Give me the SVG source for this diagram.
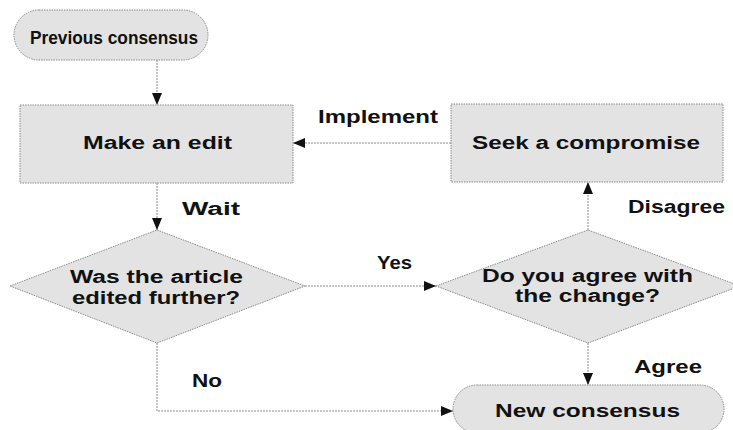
<svg xmlns="http://www.w3.org/2000/svg" width="733" height="430" viewBox="0 0 733 430">
<defs>
<style>
.shape{fill:#e3e3e3;stroke:#8a8a8a;stroke-width:1;stroke-dasharray:1.5,1}
.lbl{font-family:"Liberation Sans",Arial,sans-serif;font-weight:bold;font-size:18px;fill:#111}
.conn{fill:none;stroke:#8c8c8c;stroke-width:1;stroke-dasharray:2,1}
</style>
<marker id="ah" markerUnits="userSpaceOnUse" markerWidth="12" markerHeight="12" viewBox="0 0 12 12" refX="12" refY="6" orient="auto">
<path d="M0,1 L12,6 L0,11 Z" fill="#111"/>
</marker>
</defs>
<rect width="733" height="430" fill="#ffffff"/>
<g id="connectors">
<line class="conn" x1="157" y1="60" x2="157" y2="105" marker-end="url(#ah)"/>
<line class="conn" x1="157" y1="183" x2="157" y2="230" marker-end="url(#ah)"/>
<line class="conn" x1="305" y1="286" x2="436" y2="286" marker-end="url(#ah)"/>
<line class="conn" x1="588" y1="230" x2="588" y2="182" marker-end="url(#ah)"/>
<line class="conn" x1="451" y1="143" x2="293" y2="143" marker-end="url(#ah)"/>
<line class="conn" x1="588" y1="343" x2="588" y2="385" marker-end="url(#ah)"/>
<polyline class="conn" points="157,343 157,411 453,411" marker-end="url(#ah)"/>
<text class="lbl" x="318" y="123" textLength="120" lengthAdjust="spacingAndGlyphs">Implement</text>
<text class="lbl" x="182" y="215" textLength="58" lengthAdjust="spacingAndGlyphs">Wait</text>
<text class="lbl" x="377" y="269" textLength="35" lengthAdjust="spacingAndGlyphs">Yes</text>
<text class="lbl" x="628" y="213" textLength="97" lengthAdjust="spacingAndGlyphs">Disagree</text>
<text class="lbl" x="634" y="373" textLength="68" lengthAdjust="spacingAndGlyphs">Agree</text>
<text class="lbl" x="192" y="387" textLength="30" lengthAdjust="spacingAndGlyphs">No</text>
</g>
<g id="previous-consensus">
<rect class="shape" x="14" y="10" width="194" height="50" rx="25"/>
<text class="lbl" x="30" y="44" textLength="168" lengthAdjust="spacingAndGlyphs">Previous consensus</text>
</g>
<g id="make-an-edit">
<rect class="shape" x="20" y="105" width="273" height="78"/>
<text class="lbl" x="83" y="149" textLength="149" lengthAdjust="spacingAndGlyphs">Make an edit</text>
</g>
<g id="seek-compromise">
<rect class="shape" x="451" y="104" width="272" height="78"/>
<text class="lbl" x="472" y="149" textLength="228" lengthAdjust="spacingAndGlyphs">Seek a compromise</text>
</g>
<g id="was-edited">
<polygon class="shape" points="10,286 157,230 305,286 157,343"/>
<text class="lbl" x="70" y="283" textLength="173" lengthAdjust="spacingAndGlyphs">Was the article</text>
<text class="lbl" x="72" y="304" textLength="168" lengthAdjust="spacingAndGlyphs">edited further?</text>
</g>
<g id="do-you-agree">
<polygon class="shape" points="436,286 588,230 740,286 588,343"/>
<text class="lbl" x="482" y="282" textLength="211" lengthAdjust="spacingAndGlyphs">Do you agree with</text>
<text class="lbl" x="515" y="302" textLength="145" lengthAdjust="spacingAndGlyphs">the change?</text>
</g>
<g id="new-consensus">
<rect class="shape" x="453" y="385" width="271" height="48" rx="24"/>
<text class="lbl" x="495" y="417" textLength="185" lengthAdjust="spacingAndGlyphs">New consensus</text>
</g>
</svg>
